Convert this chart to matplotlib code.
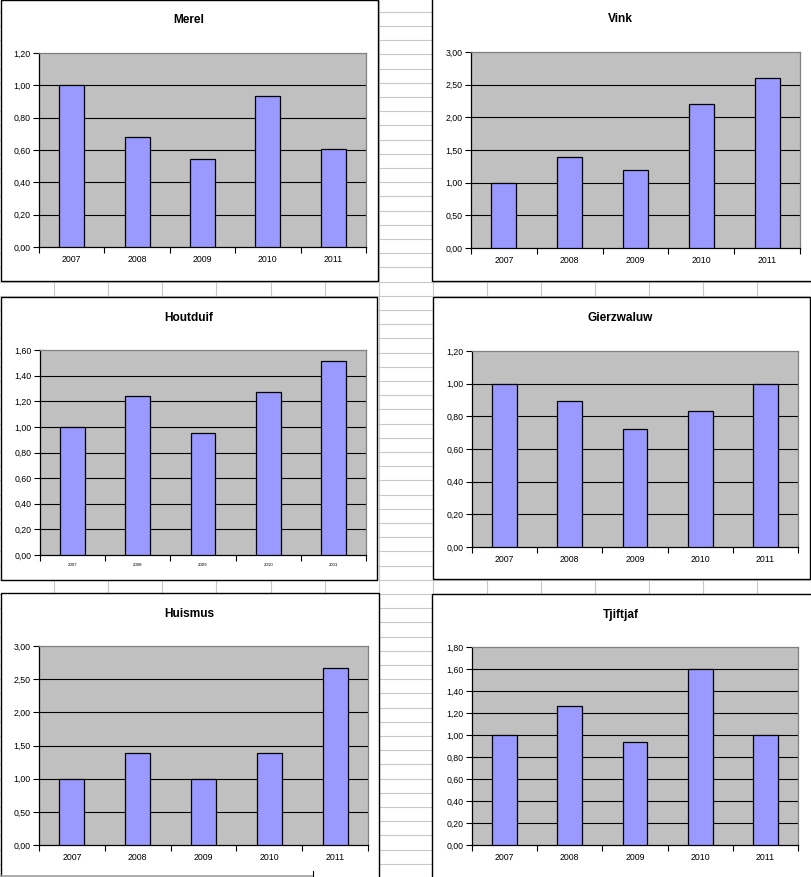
import matplotlib
matplotlib.use("Agg")
import matplotlib.pyplot as plt
from matplotlib.patches import Rectangle
from matplotlib.lines import Line2D
import numpy as np

# data
years = ['2007', '2008', '2009', '2010', '2011']
merel = [1.00, 0.68, 0.545, 0.935, 0.605]
vink = [1.00, 1.40, 1.19, 2.20, 2.60]
houtduif = [1.00, 1.24, 0.955, 1.27, 1.515]
gierzwaluw = [1.00, 0.895, 0.72, 0.83, 1.00]
huismus = [1.00, 1.385, 1.00, 1.385, 2.665]
tjiftjaf = [1.00, 1.265, 0.935, 1.60, 1.00]

W, H = 811, 877
fig = plt.figure(figsize=(W / 100, H / 100), dpi=100)
fig.patch.set_facecolor('white')
plt.rcParams['font.family'] = ['Liberation Sans', 'DejaVu Sans']


def fx(x):
    return x / W


def fy(y):
    return 1 - y / H


# spreadsheet cell grid behind the charts
for k in range(1, 16):
    x = 54.1 * k
    fig.add_artist(Line2D([fx(x), fx(x)], [0, 1], color='#c8c8c8', lw=0.8, zorder=0))
for k in range(-20, 42):
    y = 281.5 + 14.2 * k
    if 0 <= y <= H:
        fig.add_artist(Line2D([0, 1], [fy(y), fy(y)], color='#c8c8c8', lw=0.8, zorder=0))

# bottom edge details of the window
fig.add_artist(Line2D([0, fx(313)], [fy(875.5), fy(875.5)], color='#a0a0a0', lw=1.2, zorder=3))
fig.add_artist(Line2D([fx(313), fx(313)], [fy(871), fy(877)], color='black', lw=0.8, zorder=3))


def chart(frame, plot, title, tpos, values, ymax, ystep, xfs=6.3):
    x0, y0, x1, y1 = frame
    fig.add_artist(Rectangle((fx(x0), fy(y1)), fx(x1 - x0), (y1 - y0) / H,
                             facecolor='white', edgecolor='black', lw=1.0,
                             transform=fig.transFigure, zorder=1))
    fig.text(fx(tpos[0]), fy(tpos[1]), title, ha='center', va='center',
             fontsize=8.6, fontweight='bold', zorder=5)
    px0, py0, px1, py1 = plot
    ax = fig.add_axes([fx(px0), fy(py1), fx(px1 - px0), (py1 - py0) / H])
    ax.set_zorder(4)
    ax.set_facecolor('#c0c0c0')
    xs = np.arange(len(years))
    ax.bar(xs, values, width=0.38, color='#9999ff', edgecolor='black', lw=0.9, zorder=3)
    ax.set_xlim(-0.5, len(years) - 0.5)
    ax.set_ylim(0, ymax)
    yt = np.arange(0, ymax + ystep / 2, ystep)
    ax.set_yticks(yt)
    ax.set_yticklabels([f"{v:.2f}".replace('.', ',') for v in yt], fontsize=6.3)
    for v in yt[1:-1]:
        ax.axhline(v, color='black', lw=0.8, zorder=1)
    ax.set_xticks(np.arange(-0.5, len(years)), minor=False)
    ax.set_xticklabels([])
    ax.set_xticks(xs, minor=True)
    ax.set_xticklabels(years, minor=True, fontsize=xfs)
    ax.tick_params(axis='x', which='major', length=4, width=0.8, direction='out')
    ax.tick_params(axis='x', which='minor', length=0, pad=6)
    ax.tick_params(axis='y', length=4, width=0.8, direction='out', pad=2)
    for s in ['top', 'right']:
        ax.spines[s].set_color('#808080')
        ax.spines[s].set_linewidth(0.9)
    for s in ['left', 'bottom']:
        ax.spines[s].set_color('black')
        ax.spines[s].set_linewidth(0.9)
    return ax


chart((0.5, 0.5, 377.5, 280.5), (39, 53, 366, 247), 'Merel', (188.5, 20), merel, 1.2, 0.2)
chart((432, -5, 815, 281), (471, 52, 800, 248), 'Vink', (620.5, 19), vink, 3.0, 0.5)
chart((1, 297, 377, 580), (40, 350, 366, 555), 'Houtduif', (189, 318), houtduif, 1.6, 0.2, xfs=3.2)
chart((433, 297, 810, 579), (472, 351, 798, 547), 'Gierzwaluw', (620.5, 318), gierzwaluw, 1.2, 0.2)
chart((0.5, 593, 379, 885), (39, 646, 368, 845), 'Huismus', (189, 614), huismus, 3.0, 0.5)
chart((432, 594, 815, 885), (472, 647, 798, 845), 'Tjiftjaf', (620.5, 615), tjiftjaf, 1.8, 0.2)

fig.savefig('out.png', dpi=100)
